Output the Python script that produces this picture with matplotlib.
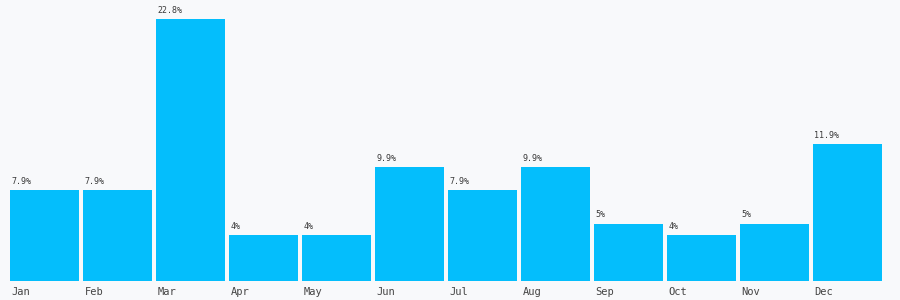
import matplotlib
matplotlib.use("Agg")
import matplotlib.pyplot as plt

months = ["Jan", "Feb", "Mar", "Apr", "May", "Jun", "Jul", "Aug", "Sep", "Oct", "Nov", "Dec"]
values = [7.9, 7.9, 22.8, 4, 4, 9.9, 7.9, 9.9, 5, 4, 5, 11.9]
labels = ["7.9%", "7.9%", "22.8%", "4%", "4%", "9.9%", "7.9%", "9.9%", "5%", "4%", "5%", "11.9%"]

bg = "#f8f9fb"
fig = plt.figure(figsize=(9, 3), dpi=100, facecolor=bg)
ax = fig.add_axes([10/900, 19/300, 872/900, 281/300])
ax.set_facecolor(bg)

w = 69/73
xs = list(range(len(months)))
ax.bar(xs, values, width=w, align="edge", color="#04befc")
ax.set_xlim(0, 11 + w)
ax.set_ylim(0, 281/11.5)

for x, v, lab, m in zip(xs, values, labels, months):
    ax.annotate(lab, (x, v), xytext=(1, 3), textcoords="offset points",
                ha="left", va="bottom", fontsize=6, family="DejaVu Sans Mono", color="#3a3a3a")
    ax.annotate(m, (x, 0), xytext=(1, -4), textcoords="offset points",
                ha="left", va="top", fontsize=7.5, family="DejaVu Sans Mono", color="#444444",
                annotation_clip=False)

ax.axis("off")
fig.savefig("out.png", dpi=100, facecolor=bg)
